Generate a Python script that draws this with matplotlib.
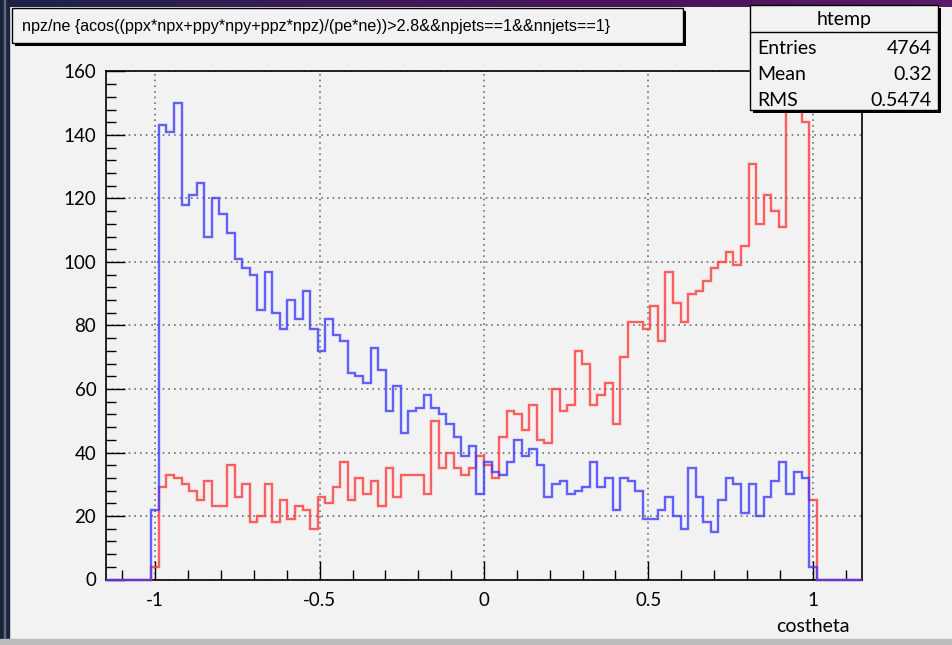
import numpy as np
import matplotlib
matplotlib.use("Agg")
import matplotlib.pyplot as plt
from matplotlib.patches import Rectangle
from matplotlib.colors import LinearSegmentedColormap
from matplotlib.ticker import FixedLocator, MultipleLocator

# ---- histogram data -------------------------------------------------------
x_low, x_high, n_bins = -1.15, 1.15, 100

blue_counts = ([0] * 6 +
               [22, 143, 141, 150, 118, 121, 125, 108, 120, 115,
                109, 101, 98, 96, 85, 97, 84, 79, 88, 82,
                91, 79, 72, 82, 77, 75, 65, 64, 62, 73,
                66, 53, 61, 46, 53, 54, 58, 54, 52, 49,
                45, 39, 42, 27, 37, 34, 33, 37, 44, 39,
                41, 36, 26, 30, 31, 27, 28, 29, 37, 29,
                32, 22, 32, 31, 28, 19, 19, 22, 26, 20,
                16, 35, 26, 18, 15, 25, 32, 30, 21, 30,
                20, 26, 31, 37, 27, 34, 32, 4] +
               [0] * 6)

red_counts = ([0] * 6 +
              [4, 29, 33, 32, 30, 28, 25, 31, 23, 23,
               36, 26, 30, 18, 20, 30, 18, 25, 19, 23,
               22, 16, 26, 24, 29, 37, 25, 32, 27, 31,
               23, 35, 26, 33, 33, 33, 27, 50, 35, 40,
               35, 33, 35, 39, 36, 32, 45, 53, 52, 47,
               55, 44, 43, 60, 53, 55, 72, 68, 55, 58,
               62, 49, 70, 81, 81, 79, 86, 75, 97, 87,
               81, 90, 91, 94, 98, 100, 103, 99, 105, 131,
               112, 121, 116, 111, 150, 152, 144, 25] +
              [0] * 6)

y_ticks = [0, 20, 40, 60, 80, 100, 120, 140, 160]
x_ticks = [-1, -0.5, 0, 0.5, 1]
x_tick_labels = ["-1", "-0.5", "0", "0.5", "1"]

title_text = "npz/ne {acos((ppx*npx+ppy*npy+ppz*npz)/(pe*ne))>2.8&&npjets==1&&nnjets==1}"
stats_name = "htemp"
stats_rows = [("Entries", "4764"), ("Mean", "0.32"), ("RMS", "0.5474")]
x_title = "costheta"

# ---- layout ---------------------------------------------------------------
W, H = 953, 645
canvas_col = "#f2f2f2"
font = ["Lato", "DejaVu Sans"]
narrow = ["Liberation Sans Narrow", "Liberation Sans", "DejaVu Sans"]

fig = plt.figure(figsize=(W / 100, H / 100), dpi=100)
fig.patch.set_facecolor(canvas_col)

# pixel-space overlay used for window chrome
bg = fig.add_axes([0, 0, 1, 1], zorder=0)
bg.set_xlim(0, W)
bg.set_ylim(H, 0)
bg.axis("off")

grad = np.linspace(0, 1, 256)[None, :]
band_cmap = LinearSegmentedColormap.from_list(
    "band", ["#1a2448", "#3a1a55", "#4a1458", "#5a1c6a"])
bg.imshow(grad, cmap=band_cmap, extent=[0, W, 7, 0], aspect="auto", zorder=1)
bg.add_patch(Rectangle((0, 0), 9, H, color="#1c2436", zorder=1))
bg.add_patch(Rectangle((4, 0), 1.2, H, color="#5a6a88", zorder=1))
bg.add_patch(Rectangle((0, 639), W, 6, color="#bcbcbc", zorder=1))

# ---- main histogram frame ---------------------------------------------------
left_px, right_px, top_px, bottom_px = 106, 862, 71.5, 579.5
ax = fig.add_axes([left_px / W, (H - bottom_px) / H,
                   (right_px - left_px) / W, (bottom_px - top_px) / H], zorder=2)
ax.set_facecolor(canvas_col)

edges = np.linspace(x_low, x_high, n_bins + 1)
ax.stairs(red_counts, edges, baseline=None, color="#ff3a3a", alpha=0.8,
          linewidth=1.7, zorder=3, clip_on=False)
ax.stairs(blue_counts, edges, baseline=None, color="#3c3cff", alpha=0.8,
          linewidth=1.7, zorder=4, clip_on=False)

ax.set_xlim(x_low, x_high)
ax.set_ylim(0, 160)

ax.xaxis.set_major_locator(FixedLocator(x_ticks))
ax.set_xticklabels(x_tick_labels)
ax.xaxis.set_minor_locator(MultipleLocator(0.1))
ax.yaxis.set_major_locator(FixedLocator(y_ticks))
ax.yaxis.set_minor_locator(MultipleLocator(4))

ax.grid(True, which="major", color="#6e6e6e", linestyle=(0, (1, 2.4)),
        linewidth=1.2, zorder=1)
ax.set_axisbelow(True)

ax.tick_params(axis="both", which="major", direction="in", length=14,
               width=1, colors="black", labelsize=13.5)
ax.tick_params(axis="both", which="minor", direction="in", length=7,
               width=1, colors="black")
ax.tick_params(axis="x", which="both", top=False, pad=9)
ax.tick_params(axis="y", which="both", right=False, pad=7)
for lbl in ax.get_xticklabels() + ax.get_yticklabels():
    lbl.set_family(font)
for sp in ax.spines.values():
    sp.set_color("black")
    sp.set_linewidth(1.2)
    sp.set_zorder(2.5)

fig.text(850 / W, 1 - 627 / H, x_title, ha="right", va="center",
         fontsize=14, family=font)

# ---- overlay boxes ----------------------------------------------------------
top = fig.add_axes([0, 0, 1, 1], zorder=5)
top.set_xlim(0, W)
top.set_ylim(H, 0)
top.axis("off")


def shadow_box(x0, y0, x1, y1):
    top.add_patch(Rectangle((x0 + 3, y0 + 3), x1 - x0, y1 - y0,
                            facecolor="black", edgecolor="none", zorder=1))
    top.add_patch(Rectangle((x0, y0), x1 - x0, y1 - y0,
                            facecolor=canvas_col, edgecolor="black",
                            linewidth=1, zorder=2))


# title box
shadow_box(12, 8, 683, 43)
top.text(22, 26.5, title_text, ha="left", va="center", fontsize=11.6,
         family=narrow, zorder=3)

# statistics box
sx0, sy0, sx1, sy1 = 750, 5, 938, 110
shadow_box(sx0, sy0, sx1, sy1)
top.plot([sx0, sx1], [32, 32], color="black", linewidth=1, zorder=3)
top.text((sx0 + sx1) / 2, 19, stats_name, ha="center", va="center",
         fontsize=14, family=font, zorder=3)
for i, (name, val) in enumerate(stats_rows):
    yy = 48 + i * 26
    top.text(757, yy, name, ha="left", va="center", fontsize=14,
             family=font, zorder=3)
    top.text(932, yy, val, ha="right", va="center", fontsize=14,
             family=font, zorder=3)

fig.savefig("out.png", dpi=100, facecolor=fig.get_facecolor())
